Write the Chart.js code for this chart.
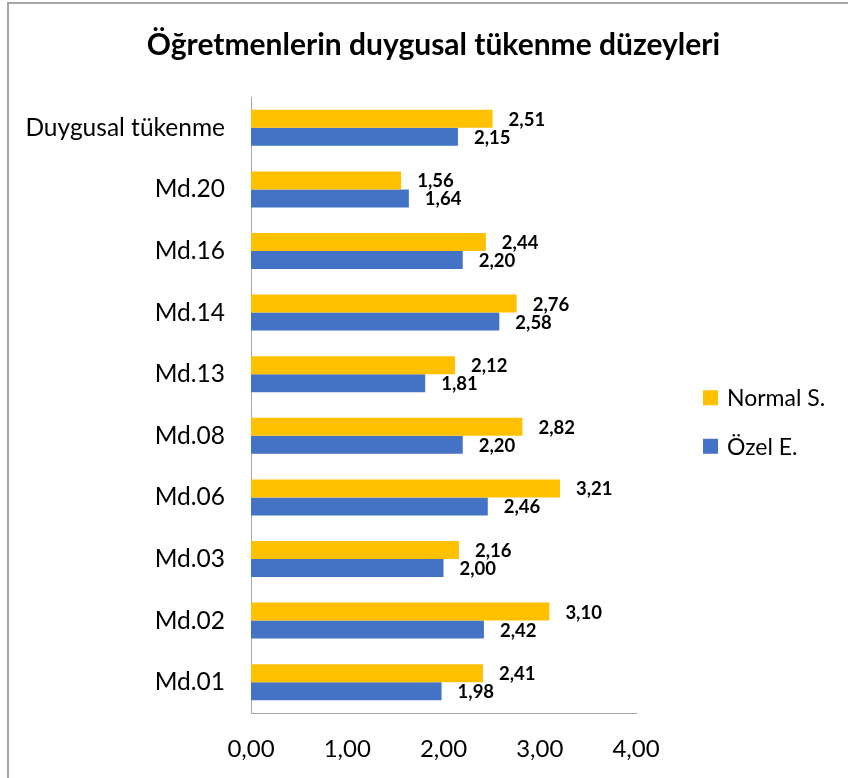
<!DOCTYPE html>
<html>
<head>
<meta charset="utf-8">
<script src="https://cdn.jsdelivr.net/npm/chart.js@4"></script>
<style>
    html, body { margin: 0; padding: 0; background: #fff; overflow: hidden; }
    #frame {
        position: absolute; left: 7px; top: 2px; width: 900px; height: 820px;
        border-left: 2px solid #a6a6a6; border-top: 2px solid #a6a6a6;
    }
</style>
</head>
<body>
<div id="frame"><canvas id="burnoutChart" width="849" height="774"></canvas></div>
<script>
const categories = ['Duygusal tükenme', 'Md.20', 'Md.16', 'Md.14', 'Md.13', 'Md.08', 'Md.06', 'Md.03', 'Md.02', 'Md.01'];
const normalValues = [2.51, 1.56, 2.44, 2.76, 2.12, 2.82, 3.21, 2.16, 3.10, 2.41];
const ozelValues = [2.15, 1.64, 2.20, 2.58, 1.81, 2.20, 2.46, 2.00, 2.42, 1.98];
const xTicks = [0, 1, 2, 3, 4];

function commaFmt(v) {
    return Number(v).toFixed(2).replace('.', ',');
}

// value labels at the end of each bar
const valueLabels = {
    id: 'valueLabels',
    afterDatasetsDraw(chart) {
        const ctx = chart.ctx;
        ctx.save();
        ctx.font = 'bold 18.5px Lato';
        ctx.fillStyle = '#000';
        ctx.textBaseline = 'middle';
        ctx.textAlign = 'left';
        chart.data.datasets.forEach((ds, i) => {
            chart.getDatasetMeta(i).data.forEach((bar, j) => {
                ctx.fillText(commaFmt(ds.data[j]), bar.x + 16, bar.y + 1);
            });
        });
        ctx.restore();
    }
};

// legend on the right side, vertically stacked
const sideLegend = {
    id: 'sideLegend',
    afterDraw(chart) {
        const { ctx, chartArea } = chart;
        const x = chartArea.right + 67;
        const midY = (chartArea.top + chartArea.bottom) / 2 + 17;
        ctx.save();
        ctx.font = '23px Lato';
        ctx.textBaseline = 'middle';
        ctx.textAlign = 'left';
        chart.data.datasets.forEach((ds, i) => {
            const cy = midY + (i - 0.5) * 48.5;
            ctx.fillStyle = ds.backgroundColor;
            ctx.fillRect(x, cy - 7.5, 15, 15);
            ctx.fillStyle = '#000';
            ctx.fillText(ds.label, x + 24, cy + 1);
        });
        ctx.restore();
    }
};

const ctx = document.getElementById('burnoutChart').getContext('2d');
new Chart(ctx, {
    type: 'bar',
    data: {
        labels: categories,
        datasets: [
            {
                label: 'Normal S.',
                data: normalValues,
                backgroundColor: '#FFC000',
                categoryPercentage: 0.585,
                barPercentage: 1
            },
            {
                label: 'Özel E.',
                data: ozelValues,
                backgroundColor: '#4472C4',
                categoryPercentage: 0.585,
                barPercentage: 1
            }
        ]
    },
    options: {
        indexAxis: 'y',
        responsive: false,
        animation: false,
        layout: {
            padding: { top: 0, left: 0, right: 0, bottom: 5 }
        },
        plugins: {
            legend: { display: false },
            tooltip: { enabled: false },
            title: {
                display: true,
                text: 'Öğretmenlerin duygusal tükenme düzeyleri',
                color: '#000',
                font: { family: 'Lato', size: 30, weight: 'bold' },
                padding: { top: 23, bottom: 34 }
            }
        },
        scales: {
            x: {
                min: 0,
                max: 4,
                afterBuildTicks: axis => { axis.ticks = xTicks.map(v => ({ value: v })); },
                afterFit: axis => { axis.height = 60; },
                grid: { display: false, drawTicks: false },
                border: { display: true, color: '#a6a6a6', width: 1 },
                ticks: {
                    color: '#000',
                    padding: 22,
                    font: { family: 'Lato', size: 24 },
                    callback: v => commaFmt(v)
                }
            },
            y: {
                afterFit: axis => { axis.width = 242; },
                grid: { display: false, drawTicks: false },
                border: { display: true, color: '#a6a6a6', width: 1 },
                ticks: {
                    color: '#000',
                    padding: 26,
                    font: { family: 'Lato', size: 24.5 }
                }
            },
            // empty right-hand axis that only reserves room for the legend
            ySpace: {
                type: 'category',
                position: 'right',
                afterFit: axis => { axis.width = 222; },
                grid: { display: false, drawTicks: false },
                border: { display: false },
                ticks: { display: false }
            }
        }
    },
    plugins: [valueLabels, sideLegend]
});
</script>
</body>
</html>
